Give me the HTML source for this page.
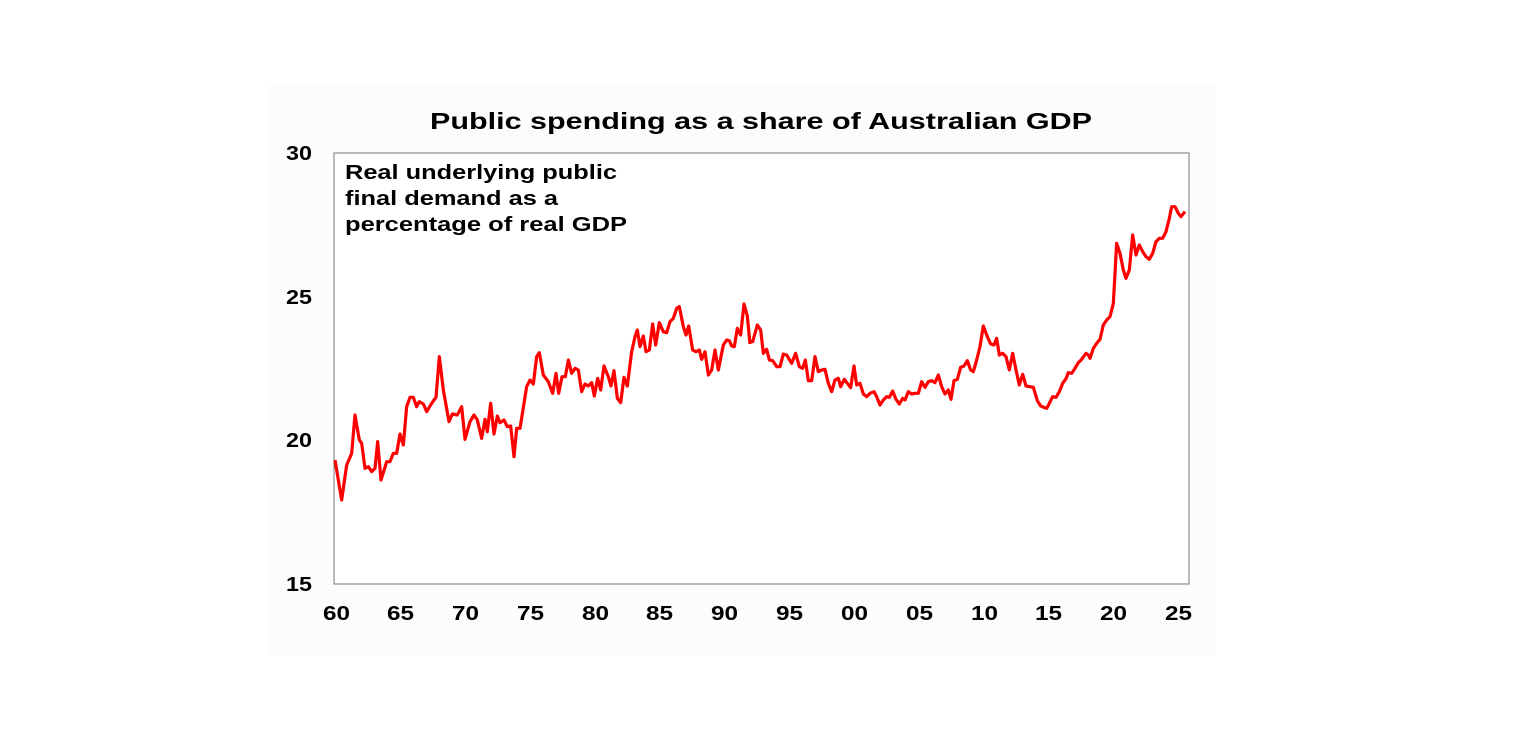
<!DOCTYPE html>
<html><head><style>body{margin:0;background:#fff}svg{display:block}</style></head><body>
<svg width="1536" height="744" xmlns="http://www.w3.org/2000/svg" font-family="Liberation Sans, Arial, sans-serif" font-weight="bold">
<rect x="268" y="86" width="948" height="570" fill="#fcfcfc"/>
<rect x="334" y="153" width="855" height="431" fill="#fff" stroke="#777" stroke-width="1"/>
<text x="430" y="129" font-size="23" textLength="662" lengthAdjust="spacingAndGlyphs">Public spending as a share of Australian GDP</text>
<g font-size="20" text-anchor="end">
<text x="312" y="160" textLength="26" lengthAdjust="spacingAndGlyphs">30</text><text x="312" y="304" textLength="26" lengthAdjust="spacingAndGlyphs">25</text><text x="312" y="447" textLength="26" lengthAdjust="spacingAndGlyphs">20</text><text x="312" y="591" textLength="26" lengthAdjust="spacingAndGlyphs">15</text>
</g>
<g font-size="20">
<text x="323" y="620" textLength="27" lengthAdjust="spacingAndGlyphs">60</text><text x="387" y="620" textLength="27" lengthAdjust="spacingAndGlyphs">65</text><text x="452" y="620" textLength="27" lengthAdjust="spacingAndGlyphs">70</text><text x="517" y="620" textLength="27" lengthAdjust="spacingAndGlyphs">75</text><text x="582" y="620" textLength="27" lengthAdjust="spacingAndGlyphs">80</text><text x="646" y="620" textLength="27" lengthAdjust="spacingAndGlyphs">85</text><text x="711" y="620" textLength="27" lengthAdjust="spacingAndGlyphs">90</text><text x="776" y="620" textLength="27" lengthAdjust="spacingAndGlyphs">95</text><text x="841" y="620" textLength="27" lengthAdjust="spacingAndGlyphs">00</text><text x="906" y="620" textLength="27" lengthAdjust="spacingAndGlyphs">05</text><text x="971" y="620" textLength="27" lengthAdjust="spacingAndGlyphs">10</text><text x="1035" y="620" textLength="27" lengthAdjust="spacingAndGlyphs">15</text><text x="1100" y="620" textLength="27" lengthAdjust="spacingAndGlyphs">20</text><text x="1165" y="620" textLength="27" lengthAdjust="spacingAndGlyphs">25</text>
</g>
<g font-size="20">
<text x="345" y="179" textLength="272" lengthAdjust="spacingAndGlyphs">Real underlying public</text>
<text x="345" y="205" textLength="213" lengthAdjust="spacingAndGlyphs">final demand as a</text>
<text x="345" y="231" textLength="282" lengthAdjust="spacingAndGlyphs">percentage of real GDP</text>
</g>
<g fill="none" stroke="#ff0000" stroke-width="3.2" stroke-linejoin="round">
<polyline vector-effect="non-scaling-stroke" transform="translate(330,280) scale(0.33333)" points="15,540 35,660 50,555 65,520 75,405 88,480 95,490 105,565 115,560 125,575 135,565 143,485 153,600 170,545 180,545 190,520 200,520 210,462 220,495 230,380 240,352 250,352 260,380 268,365 280,372 290,395 305,370 318,352 328,230 340,330 357,425 367,402 382,405 395,380 405,478 420,425 432,405 442,420 455,475 465,418 472,455 482,370 492,462 502,408 510,428 522,420 532,440 542,438 552,530 560,445 570,445 590,320 600,300 610,312 620,230 628,218 640,285 655,305 668,340 678,280 686,340 696,290 706,290 715,240 725,280 735,265 745,270 755,335 765,312 775,318 785,308 793,348 803,295 812,330 822,258 835,290 843,318 852,272 862,355 872,368 882,292 892,318 905,215 915,170 922,150 930,200 940,168 948,215 958,210 968,132 977,195 988,128 1000,155 1010,158 1020,125 1030,115 1040,85 1048,80 1060,140 1068,165 1076,138 1088,210 1098,215 1108,210 1115,238 1125,215 1135,285 1145,270 1155,210 1165,270 1180,195 1190,180 1198,182 1205,198 1213,200 1222,145 1232,165 1242,72 1252,108 1260,192"/>
<polyline vector-effect="non-scaling-stroke" transform="translate(750,190) scale(0.33333)" points="0,455 8,455 22,405 32,420 40,490 50,478 58,510 68,512 80,530 90,530 100,492 110,495 125,520 137,490 148,530 158,535 166,510 175,572 185,572 195,500 205,545 215,540 225,538 235,580 245,605 255,570 265,565 272,590 283,568 292,580 302,593 312,528 320,585 330,580 340,612 350,620 360,610 372,605 380,620 390,645 400,630 410,620 418,622 428,603 438,628 448,642 458,625 465,630 475,605 485,612 495,610 505,610 515,575 525,592 535,575 545,572 555,578 565,555 575,590 585,612 595,600 603,628 612,572 622,568 632,532 642,528 652,512 662,540 670,545 680,510 690,470 700,408 712,440 722,462 732,465 740,445 748,495 758,490 768,500 778,540 788,490 798,540 808,585 818,553 828,588 840,590 850,592 862,632 872,648 882,652 890,655 898,640 908,620 918,622 928,605 938,580 948,566 955,548 965,550 975,535 985,518 995,508 1008,490 1015,495 1020,505 1030,475 1040,460 1050,448 1060,405 1070,390 1080,380 1090,340 1100,160 1110,190 1120,240 1128,265 1138,240 1148,135 1158,195 1168,165 1178,185 1188,200 1198,208 1208,190 1218,155 1228,145 1238,145 1248,125 1258,85 1265,50 1275,50 1285,70 1293,80 1305,65"/>
</g>
</svg>
</body></html>
